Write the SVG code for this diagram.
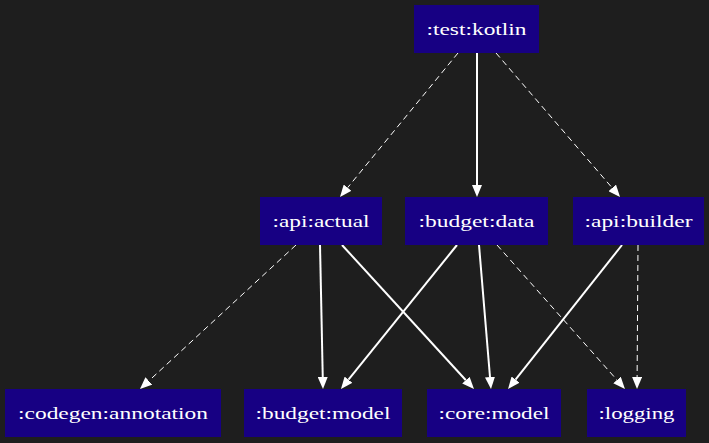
<svg xmlns="http://www.w3.org/2000/svg" width="709" height="443" viewBox="0 0 709 443">
<style>
.n rect{fill:#170083}
.n text{fill:#ffffff;font-family:"Liberation Serif","Times New Roman",serif;font-size:17px;text-anchor:middle}
.e line{stroke:#ffffff;fill:none}
.s{stroke-width:2}
.d{stroke-width:1;stroke-dasharray:6,4}
</style>
<defs>
<marker id="a" markerUnits="userSpaceOnUse" markerWidth="12" markerHeight="10" viewBox="0 -5 12 10" refX="0" refY="0" orient="auto">
<path d="M0,-5 L12,0 L0,5 z" fill="#ffffff"/>
</marker>
</defs>
<rect x="0" y="0" width="709" height="443" fill="#1e1e1e"/>
<g id="edges" class="e">
<line class="d" x1="458" y1="53" x2="347.6" y2="187.7" marker-end="url(#a)"/>
<line class="s" x1="477" y1="53" x2="477" y2="185" marker-end="url(#a)"/>
<line class="d" x1="496" y1="53" x2="612.2" y2="187.9" marker-end="url(#a)"/>
<line class="d" x1="296" y1="245" x2="148.8" y2="380.9" marker-end="url(#a)"/>
<line class="s" x1="320" y1="245" x2="322.75" y2="377" marker-end="url(#a)"/>
<line class="s" x1="342" y1="245" x2="465.9" y2="380.2" marker-end="url(#a)"/>
<line class="s" x1="457" y1="245" x2="348.5" y2="379.7" marker-end="url(#a)"/>
<line class="s" x1="479" y1="245" x2="490" y2="377" marker-end="url(#a)"/>
<line class="d" x1="497" y1="245" x2="617" y2="380" marker-end="url(#a)"/>
<line class="s" x1="622" y1="245" x2="515.5" y2="379.6" marker-end="url(#a)"/>
<line class="d" x1="638" y1="245" x2="637.1" y2="377" marker-end="url(#a)"/>
</g>
<g id="test_kotlin" class="n"><rect x="414" y="5" width="125" height="48"/><text x="476.5" y="34.5" textLength="100" lengthAdjust="spacingAndGlyphs">:test:kotlin</text></g>
<g id="api_actual" class="n"><rect x="260" y="197" width="122" height="48"/><text x="321" y="226.5" textLength="97" lengthAdjust="spacingAndGlyphs">:api:actual</text></g>
<g id="budget_data" class="n"><rect x="405" y="197" width="143" height="48"/><text x="476.5" y="226.5" textLength="116" lengthAdjust="spacingAndGlyphs">:budget:data</text></g>
<g id="api_builder" class="n"><rect x="573" y="197" width="131" height="48"/><text x="638.5" y="226.5" textLength="108" lengthAdjust="spacingAndGlyphs">:api:builder</text></g>
<g id="codegen_annotation" class="n"><rect x="5" y="389" width="216" height="48"/><text x="113" y="418.5" textLength="190" lengthAdjust="spacingAndGlyphs">:codegen:annotation</text></g>
<g id="budget_model" class="n"><rect x="244" y="389" width="158" height="48"/><text x="323" y="418.5" textLength="135" lengthAdjust="spacingAndGlyphs">:budget:model</text></g>
<g id="core_model" class="n"><rect x="427" y="389" width="134" height="48"/><text x="494" y="418.5" textLength="111" lengthAdjust="spacingAndGlyphs">:core:model</text></g>
<g id="logging" class="n"><rect x="587" y="389" width="99" height="48"/><text x="636.5" y="418.5" textLength="76" lengthAdjust="spacingAndGlyphs">:logging</text></g>
</svg>
